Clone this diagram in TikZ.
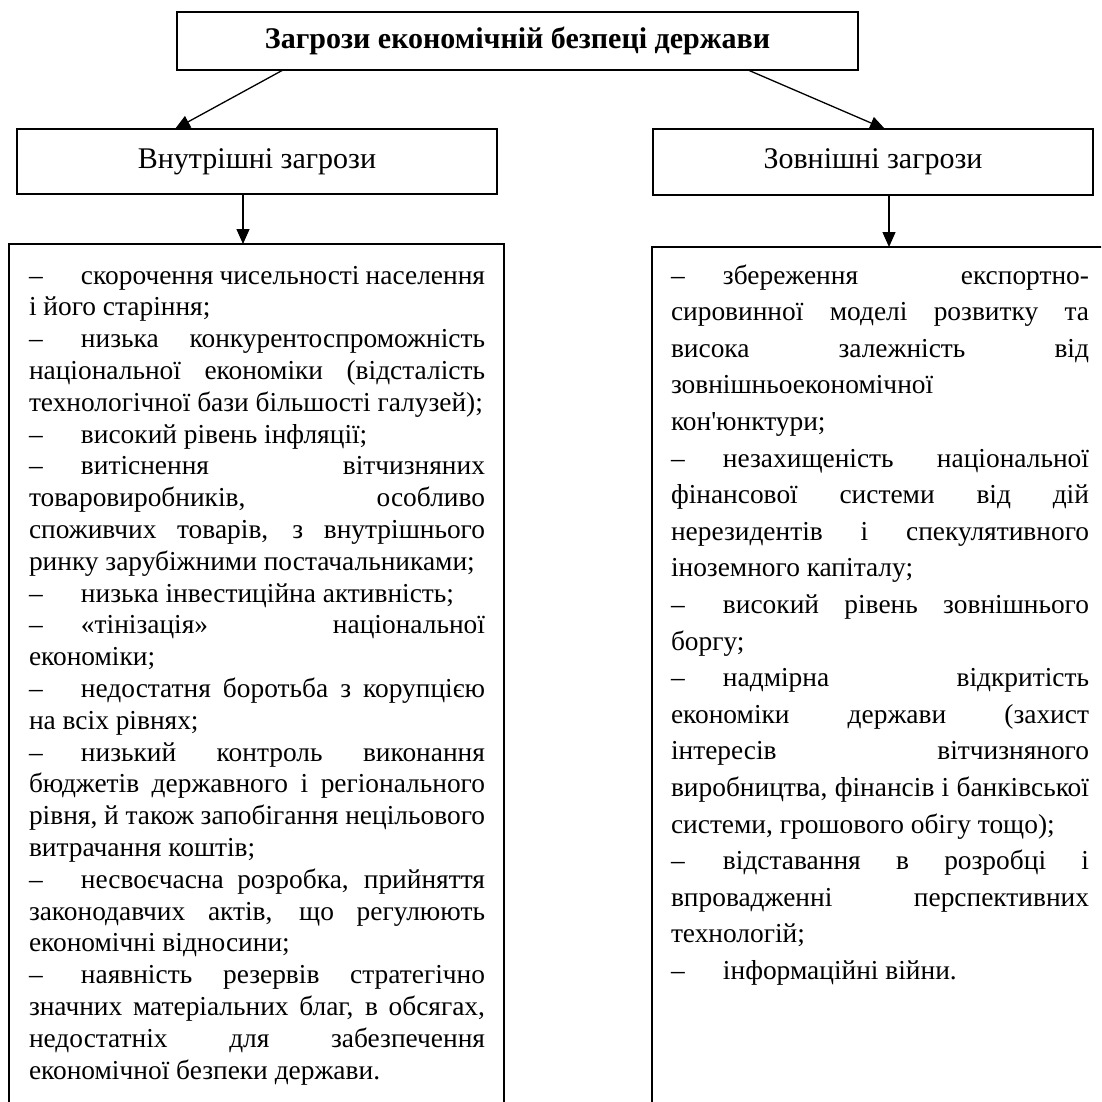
\documentclass[tikz,border=0pt]{standalone}
\usepackage{fontspec}
\setmainfont{Liberation Serif}[Ligatures=TeXOff]
\usetikzlibrary{arrows.meta}
\newcommand\jline[1]{\hbox to\hsize{\vrule width0pt height20pt depth7pt\relax #1}}
\newcommand\lline[1]{\hbox{\vrule width0pt height20pt depth7pt\relax #1}}
\newcommand\mydash{\hbox to 52pt{–\hfil}}
\tikzset{
  boxstyle/.style={draw, line width=2.2pt, inner sep=0pt, outer sep=0pt},
  headtext/.style={font=\fontsize{30pt}{36pt}\selectfont},
  arr/.style={line width=1.3pt, -{Triangle[length=15pt,width=13pt]}},
  listtext/.style={anchor=north west, inner sep=0pt, outer sep=0pt}
}
\begin{document}
\begin{tikzpicture}[x=1pt, y=-1pt]
\useasboundingbox (0,0) rectangle (1101,1102);
\clip (0,0) rectangle (1101,1102);
\fill[white] (0,0) rectangle (1101,1102);

\node[boxstyle, headtext, minimum width=681pt, minimum height=58pt] (top) at (517.5,41)
  {\bfseries Загрози економічній безпеці держави};
\node[boxstyle, headtext, minimum width=480pt, minimum height=65pt] (lmid) at (257,161.5)
  {Внутрішні загрози};
\node[boxstyle, headtext, minimum width=440pt, minimum height=66pt] (rmid) at (873,162)
  {Зовнішні загрози};
\node[boxstyle, minimum width=495pt, minimum height=886pt] (lbox) at (256.5,687) {};
\node[boxstyle, minimum width=478pt, minimum height=883pt] (rbox) at (891,688.5) {};

\draw[arr] ([xshift=106pt]top.south west) -- ([xshift=158pt]lmid.north west);
\draw[arr] ([xshift=571pt]top.south west) -- ([xshift=232pt]rmid.north west);
\draw[arr] ([xshift=226pt]lmid.south west) -- ([xshift=226pt]lmid.south west |- lbox.north);
\draw[arr] ([xshift=236pt]rmid.south west) -- ([xshift=236pt]rmid.south west |- rbox.north);

\node[listtext] (ltext) at (29,264) {\fontsize{27.4pt}{31.8pt}\selectfont\vbox{\hsize=456pt
\baselineskip=31.8pt \lineskiplimit=0pt \lineskip=0pt
\jline{\mydash скорочення чисельності населення}
\lline{і його старіння;}
\jline{\mydash низька конкурентоспроможність}
\jline{національної економіки (відсталість}
\lline{технологічної бази більшості галузей);}
\lline{\mydash високий рівень інфляції;}
\jline{\mydash витіснення вітчизняних}
\jline{товаровиробників, особливо}
\jline{споживчих товарів, з внутрішнього}
\lline{ринку зарубіжними постачальниками;}
\lline{\mydash низька інвестиційна активність;}
\jline{\mydash «тінізація» національної}
\lline{економіки;}
\jline{\mydash недостатня боротьба з корупцією}
\lline{на всіх рівнях;}
\jline{\mydash низький контроль виконання}
\jline{бюджетів державного і регіонального}
\jline{рівня, й також запобігання нецільового}
\lline{витрачання коштів;}
\jline{\mydash несвоєчасна розробка, прийняття}
\jline{законодавчих актів, що регулюють}
\lline{економічні відносини;}
\jline{\mydash наявність резервів стратегічно}
\jline{значних матеріальних благ, в обсягах,}
\jline{недостатніх для забезпечення}
\lline{економічної безпеки держави.}
}};

\node[listtext] (rtext) at (671,264) {\fontsize{27.4pt}{36.6pt}\selectfont\vbox{\hsize=418pt
\baselineskip=36.6pt \lineskiplimit=0pt \lineskip=0pt
\jline{\mydash збереження експортно-}
\jline{сировинної моделі розвитку та}
\jline{висока залежність від}
\lline{зовнішньоекономічної}
\lline{кон'юнктури;}
\jline{\mydash незахищеність національної}
\jline{фінансової системи від дій}
\jline{нерезидентів і спекулятивного}
\lline{іноземного капіталу;}
\jline{\mydash високий рівень зовнішнього}
\lline{боргу;}
\jline{\mydash надмірна відкритість}
\jline{економіки держави (захист}
\jline{інтересів вітчизняного}
\jline{виробництва, фінансів і банківської}
\lline{системи, грошового обігу тощо);}
\jline{\mydash відставання в розробці і}
\jline{впровадженні перспективних}
\lline{технологій;}
\lline{\mydash інформаційні війни.}
}};
\end{tikzpicture}
\end{document}
